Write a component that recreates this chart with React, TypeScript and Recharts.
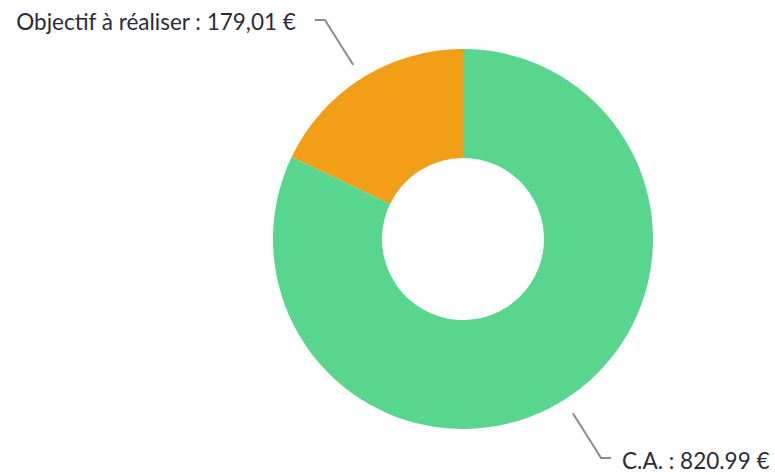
import { PieChart, Pie, Cell } from "recharts"

const names = ["Objectif à réaliser", "C.A."]
const values = [179.01, 820.99]
const valueLabels = ["179,01 €", "820.99 €"]
const colors = ["#F29E17", "#59D68E"]

const data = names.map((name, i) => ({ name, value: values[i], text: valueLabels[i] }))

const RADIAN = Math.PI / 180

const renderLabel = (props: any) => {
  const { cx, cy, midAngle, outerRadius, index } = props
  const cos = Math.cos(-midAngle * RADIAN)
  const sin = Math.sin(-midAngle * RADIAN)
  const sx = cx + (outerRadius + 16) * cos
  const sy = cy + (outerRadius + 16) * sin
  const mx = cx + (outerRadius + 69) * cos
  const my = cy + (outerRadius + 69) * sin
  const dir = cos >= 0 ? 1 : -1
  const ex = mx + dir * 10
  const d = data[index]
  return (
    <g>
      <path d={`M${sx},${sy}L${mx},${my}L${ex},${my}`} stroke="#8c8c8c" strokeWidth={2} fill="none" />
      <text
        x={ex + (dir > 0 ? 11 : -19)}
        y={my + 2}
        textAnchor={dir > 0 ? "start" : "end"}
        dominantBaseline="central"
        fill="#2b2b3a"
        fontSize={22.5}
        fontFamily="Lato, sans-serif"
      >
        {`${d.name} : ${d.text}`}
      </text>
    </g>
  )
}

export default function App() {
  return (
    <div style={{ position: "absolute", left: 0, top: 0, width: 775, height: 475, background: "#fff" }}>
      <PieChart width={775} height={475}>
        <Pie
          data={data}
          dataKey="value"
          cx={458}
          cy={234}
          innerRadius={81}
          outerRadius={190}
          startAngle={90}
          endAngle={450}
          stroke="none"
          label={renderLabel}
          labelLine={false}
          isAnimationActive={false}
        >
          {data.map((d, i) => (
            <Cell key={d.name} fill={colors[i]} />
          ))}
        </Pie>
      </PieChart>
    </div>
  )
}
